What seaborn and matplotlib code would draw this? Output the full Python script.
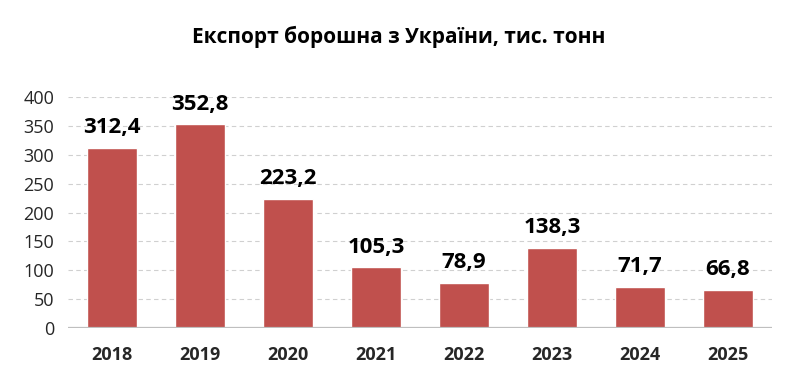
import matplotlib
matplotlib.use("Agg")
import matplotlib.pyplot as plt
import seaborn as sns
import pandas as pd

# Data
years = ["2018", "2019", "2020", "2021", "2022", "2023", "2024", "2025"]
export_kt = [312.4, 352.8, 223.2, 105.3, 78.9, 138.3, 71.7, 66.8]
y_ticks = [0, 50, 100, 150, 200, 250, 300, 350, 400]

df = pd.DataFrame({"year": years, "value": export_kt})

sns.set_theme(style="white")
plt.rcParams['font.family'] = ['Open Sans', 'DejaVu Sans']

fig = plt.figure(figsize=(7.97, 3.86), dpi=100)
ax = fig.add_axes([0.0853, 0.150, 0.8833, 0.5987])

sns.barplot(data=df, x="year", y="value", color="#C0504D", saturation=1,
            width=0.56, ax=ax, zorder=3)

ax.set_ylim(0, 400)
ax.set_xlim(-0.5, len(years) - 0.5)
ax.set_yticks(y_ticks)
ax.set_yticklabels([str(t) for t in y_ticks], fontsize=13)
ax.tick_params(axis='y', length=0, pad=10)
ax.tick_params(axis='x', length=0, pad=13)
for lbl in ax.get_xticklabels():
    lbl.set_fontsize(13)
    lbl.set_fontweight('bold')

for t in y_ticks[1:]:
    ax.axhline(t, color="#d0d0d0", linestyle=(0, (4, 3)), linewidth=0.8, zorder=1)
ax.axhline(0, color="#bfbfbf", linewidth=1.6, zorder=4)

for s in ax.spines.values():
    s.set_visible(False)

for i, v in enumerate(export_kt):
    ax.annotate(f"{v:.1f}".replace(".", ","), (i, v), xytext=(0, 7),
                textcoords="offset points", ha="center", va="bottom",
                fontsize=16, fontweight="bold", color="black", clip_on=False)

ax.set_xlabel("")
ax.set_ylabel("")
fig.text(0.5, 0.905, "Експорт борошна з України, тис. тонн", ha="center",
         va="center", fontsize=15, fontweight="bold", color="black")

fig.savefig("out.png", dpi=100, facecolor="white")
